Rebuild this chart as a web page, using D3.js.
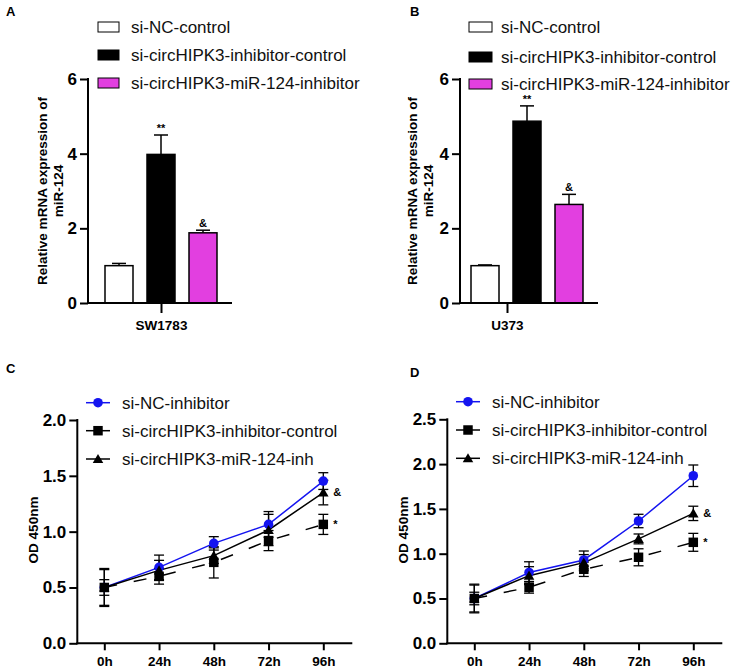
<!DOCTYPE html>
<html>
<head>
<meta charset="utf-8">
<script src="https://cdn.jsdelivr.net/npm/d3@7"></script>
<style>
  html, body { margin: 0; padding: 0; background: #fff; }
  svg { display: block; font-family: Arial, "Liberation Sans", sans-serif; }
</style>
</head>
<body>
<svg id="chart" width="742" height="668"></svg>
<script>
// ---------------- DATA ----------------
const barGroups = ["si-NC-control", "si-circHIPK3-inhibitor-control", "si-circHIPK3-miR-124-inhibitor"];
const barTicks = [0, 2, 4, 6];
const sw1783Means = [1.0, 3.98, 1.88];
const sw1783Errs  = [0.06, 0.52, 0.07];
const u373Means   = [1.0, 4.87, 2.64];
const u373Errs    = [0.02, 0.41, 0.27];
const barSig      = ["", "**", "&"];

const timePoints = ["0h", "24h", "48h", "72h", "96h"];
const lineSeries = ["si-NC-inhibitor", "si-circHIPK3-inhibitor-control", "si-circHIPK3-miR-124-inh"];
const ticksC = [0, 0.5, 1.0, 1.5, 2.0];
const ticksD = [0, 0.5, 1.0, 1.5, 2.0, 2.5];

const ncMeanC   = [0.50, 0.68, 0.895, 1.065, 1.453];
const ncErrC    = [0.17, 0.11, 0.06, 0.115, 0.075];
const ctrlMeanC = [0.50, 0.60, 0.725, 0.92, 1.065];
const ctrlErrC  = [0.07, 0.07, 0.14, 0.09, 0.09];
const inhMeanC  = [0.50, 0.653, 0.785, 1.015, 1.35];
const inhErrC   = [0.16, 0.09, 0.07, 0.14, 0.11];

const ncMeanD   = [0.50, 0.79, 0.93, 1.365, 1.87];
const ncErrD    = [0.16, 0.12, 0.10, 0.075, 0.12];
const ctrlMeanD = [0.50, 0.625, 0.826, 0.96, 1.127];
const ctrlErrD  = [0.07, 0.065, 0.08, 0.095, 0.10];
const inhMeanD  = [0.50, 0.755, 0.90, 1.165, 1.45];
const inhErrD   = [0.15, 0.10, 0.09, 0.055, 0.08];

const ctrlSig = ["", "", "", "", "*"];
const inhSig  = ["", "", "", "", "&"];

// ---------------- STYLES ----------------
const barFills = ["#ffffff", "#000000", "#e23fe0"];
const blue = "#1414f0";

const svg = d3.select("#chart");

function panelLetter(x, y, t) {
  svg.append("text").attr("x", x).attr("y", y).attr("font-size", 13).attr("font-weight", "bold").text(t);
}

function styleAxis(g, fontSize) {
  g.selectAll(".tick line").attr("stroke", "#000").attr("stroke-width", 2);
  g.selectAll(".tick text").attr("fill", "#000").attr("font-size", fontSize).attr("font-weight", "bold")
    .attr("font-family", "Arial, 'Liberation Sans', sans-serif");
  g.select(".domain").remove();
}

// ---------------- BAR PANELS ----------------
function barPanel(o) {
  const y = d3.scaleLinear().domain([0, 6]).range([303, 79]);
  const x = d3.scaleBand().domain(barGroups).range([o.ox + o.bandStart, o.ox + o.bandStart + 126])
    .paddingInner(1 / 3).paddingOuter(1 / 6);
  const g = svg.append("g");

  // bars
  barGroups.forEach((k, i) => {
    const x0 = x(k), bw = x.bandwidth();
    const top = y(o.means[i]), etop = y(o.means[i] + o.errs[i]);
    g.append("line").attr("x1", x0 + bw / 2).attr("x2", x0 + bw / 2).attr("y1", top).attr("y2", etop)
      .attr("stroke", "#000").attr("stroke-width", 1.5);
    g.append("line").attr("x1", x0 + bw / 2 - 7).attr("x2", x0 + bw / 2 + 7).attr("y1", etop).attr("y2", etop)
      .attr("stroke", "#000").attr("stroke-width", 1.5);
    g.append("rect").attr("x", x0).attr("y", top).attr("width", bw).attr("height", y(0) - top)
      .attr("fill", barFills[i]).attr("stroke", "#000").attr("stroke-width", 1.5);
    if (barSig[i]) {
      g.append("text").attr("x", x0 + bw / 2).attr("y", etop - 3).attr("text-anchor", "middle")
        .attr("font-size", 11).attr("font-weight", "bold").text(barSig[i]);
    }
  });

  // y axis
  const ya = g.append("g").attr("transform", `translate(${o.ox},0)`)
    .call(d3.axisLeft(y).tickValues(barTicks).tickSize(8).tickPadding(3).tickFormat(d3.format("d")));
  styleAxis(ya, 17);
  g.append("line").attr("x1", o.ox).attr("x2", o.ox).attr("y1", y(6) - 1).attr("y2", y(0) + 1)
    .attr("stroke", "#000").attr("stroke-width", 2);
  // x axis
  const xp = d3.scalePoint().domain([o.cell]).range([o.ox, o.ox + o.tickSpan]);
  const xa = g.append("g").attr("transform", `translate(0,${y(0)})`)
    .call(d3.axisBottom(xp).tickSize(10).tickPadding(7));
  styleAxis(xa, 13.5);
  g.append("line").attr("x1", o.ox - 1).attr("x2", o.xEnd).attr("y1", y(0)).attr("y2", y(0))
    .attr("stroke", "#000").attr("stroke-width", 2);

  // y title
  const yt = g.append("text").attr("transform", `translate(${o.titleX},${(y(0) + y(6)) / 2}) rotate(-90)`)
    .attr("text-anchor", "middle").attr("font-size", 13.5).attr("font-weight", "bold");
  yt.append("tspan").attr("x", 0).attr("dy", 0).text("Relative mRNA expression of");
  yt.append("tspan").attr("x", 0).attr("dy", 16).text("miR-124");

  // legend
  barGroups.forEach((k, i) => {
    const cy = o.legRows[i];
    g.append("rect").attr("x", o.legX).attr("y", cy - 5).attr("width", o.legW).attr("height", 10)
      .attr("fill", barFills[i]).attr("stroke", "#000").attr("stroke-width", 1);
    g.append("text").attr("x", o.legTextX).attr("y", cy).attr("dy", "0.35em")
      .attr("font-size", 17).attr("fill", "#111").text(k);
  });
}

barPanel({ ox: 88, bandStart: 10, xEnd: 232, tickSpan: 146, cell: "SW1783", means: sw1783Means, errs: sw1783Errs,
  titleX: 47, legX: 98, legW: 21, legTextX: 131, legRows: [27, 55, 83] });
barPanel({ ox: 460, bandStart: 4, xEnd: 598, tickSpan: 94, cell: "U373", means: u373Means, errs: u373Errs,
  titleX: 417, legX: 469, legW: 23, legTextX: 501, legRows: [27, 57, 84] });

panelLetter(6, 16, "A");
panelLetter(410, 16, "B");

// ---------------- LINE PANELS ----------------
function drawMarker(g, kind, cx, cy, color) {
  if (kind === "circle") {
    g.append("circle").attr("cx", cx).attr("cy", cy).attr("r", 4.8).attr("fill", color);
  } else if (kind === "square") {
    g.append("path").attr("transform", `translate(${cx},${cy})`)
      .attr("d", d3.symbol(d3.symbolSquare, 90)()).attr("fill", color);
  } else {
    g.append("path").attr("transform", `translate(${cx},${cy + 1})`)
      .attr("d", d3.symbol(d3.symbolTriangle, 48)()).attr("fill", color);
  }
}

function linePanel(o) {
  const y = d3.scaleLinear().domain([0, o.yMax]).range([643.3, o.yTopPx]);
  const x = d3.scalePoint().domain(timePoints).range([o.ox + 27, o.ox + 246]);
  const g = svg.append("g");

  const series = [
    { name: lineSeries[0], means: o.nc,   errs: o.ncErr,   color: blue,   kind: "circle",   dash: null,    sig: null },
    { name: lineSeries[1], means: o.ctrl, errs: o.ctrlErr, color: "#000", kind: "square",   dash: "13,17", sig: ctrlSig },
    { name: lineSeries[2], means: o.inh,  errs: o.inhErr,  color: "#000", kind: "triangle", dash: null,    sig: inhSig }
  ];

  const line = d3.line().x((d, i) => x(timePoints[i])).y(d => y(d));
  // lines
  series.forEach(s => {
    g.append("path").datum(s.means).attr("d", line).attr("fill", "none")
      .attr("stroke", s.color).attr("stroke-width", 1.5)
      .attr("stroke-dasharray", s.dash);
  });
  // error bars
  series.forEach(s => {
    s.means.forEach((m, i) => {
      const cx = x(timePoints[i]);
      const y1 = y(m + s.errs[i]), y2 = y(m - s.errs[i]);
      g.append("line").attr("x1", cx).attr("x2", cx).attr("y1", y1).attr("y2", y2).attr("stroke", "#000").attr("stroke-width", 1.3);
      [y1, y2].forEach(yy => g.append("line").attr("x1", cx - 5).attr("x2", cx + 5).attr("y1", yy).attr("y2", yy)
        .attr("stroke", "#000").attr("stroke-width", 1.3));
    });
  });
  // markers (circle, triangle, square order)
  [series[0], series[2], series[1]].forEach(s => {
    s.means.forEach((m, i) => drawMarker(g, s.kind, x(timePoints[i]), y(m), s.color));
    if (s.sig) {
      s.means.forEach((m, i) => {
        if (s.sig[i]) g.append("text").attr("x", x(timePoints[i]) + 10).attr("y", y(m)).attr("dy", "0.35em")
          .attr("font-size", 11).attr("font-weight", "bold").text(s.sig[i]);
      });
    }
  });

  // axes
  const ya = g.append("g").attr("transform", `translate(${o.ox},0)`)
    .call(d3.axisLeft(y).tickValues(o.ticks).tickSize(8).tickPadding(3).tickFormat(d3.format(".1f")));
  styleAxis(ya, 17);
  g.append("line").attr("x1", o.ox).attr("x2", o.ox).attr("y1", y(o.yMax) - 1).attr("y2", y(0) + 1)
    .attr("stroke", "#000").attr("stroke-width", 2);
  const xa = g.append("g").attr("transform", `translate(0,${y(0)})`)
    .call(d3.axisBottom(x).tickSize(7).tickPadding(6));
  styleAxis(xa, 13.5);
  g.append("line").attr("x1", o.ox - 1).attr("x2", o.ox + 275).attr("y1", y(0)).attr("y2", y(0))
    .attr("stroke", "#000").attr("stroke-width", 2);

  g.append("text").attr("transform", `translate(${o.titleX},530) rotate(-90)`).attr("dy", "0.35em")
    .attr("text-anchor", "middle").attr("font-size", 13.5).attr("font-weight", "bold").text("OD 450nm");

  // legend
  series.forEach((s, i) => {
    const cy = o.legRows[i];
    g.append("line").attr("x1", o.legX).attr("x2", o.legX + 24).attr("y1", cy).attr("y2", cy)
      .attr("stroke", s.color).attr("stroke-width", 1.5);
    drawMarker(g, s.kind, o.legX + 12, cy, s.color);
    g.append("text").attr("x", o.legX + 36).attr("y", cy).attr("dy", "0.35em")
      .attr("font-size", 17).attr("fill", "#111").text(s.name);
  });
}

linePanel({ ox: 77.3, yMax: 2.0, yTopPx: 420, ticks: ticksC, nc: ncMeanC, ncErr: ncErrC, ctrl: ctrlMeanC, ctrlErr: ctrlErrC,
  inh: inhMeanC, inhErr: inhErrC, titleX: 33, legX: 86, legRows: [402.7, 430.7, 459] });
linePanel({ ox: 447.3, yMax: 2.5, yTopPx: 419.3, ticks: ticksD, nc: ncMeanD, ncErr: ncErrD, ctrl: ctrlMeanD, ctrlErr: ctrlErrD,
  inh: inhMeanD, inhErr: inhErrD, titleX: 403, legX: 456, legRows: [401.7, 430, 458.3] });

panelLetter(6, 373, "C");
panelLetter(410, 377, "D");
</script>
</body>
</html>
